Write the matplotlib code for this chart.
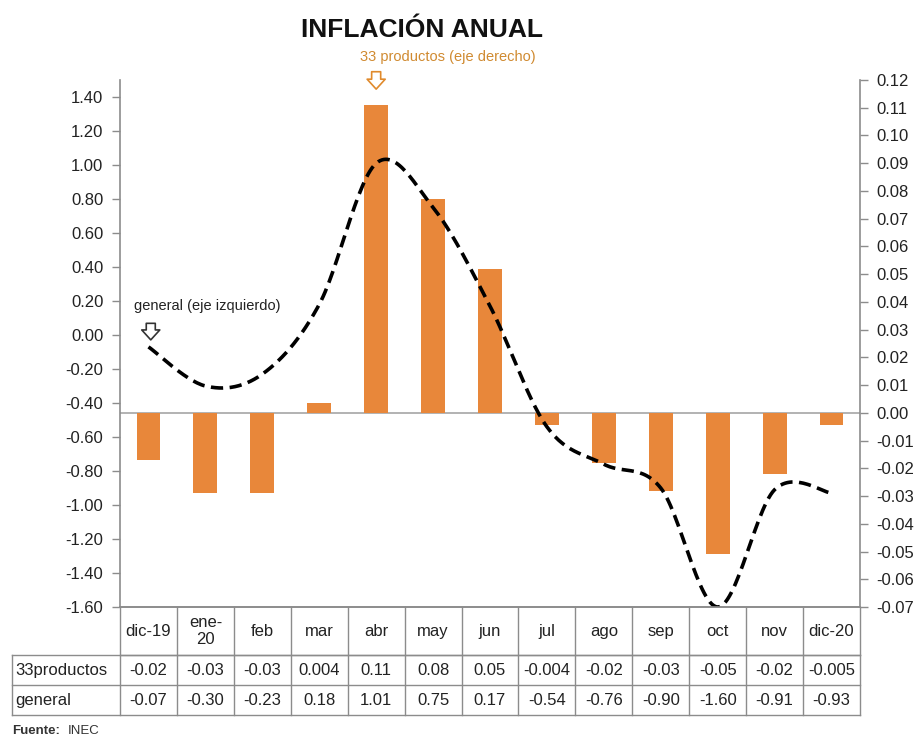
import numpy as np
import matplotlib
matplotlib.use("Agg")
import matplotlib.pyplot as plt
from matplotlib.ticker import FormatStrFormatter, MultipleLocator

plt.rcParams['font.family'] = ['Liberation Sans', 'DejaVu Sans']
plt.rcParams['axes.unicode_minus'] = False

# data
meses = ['dic-19', 'ene-\n20', 'feb', 'mar', 'abr', 'may', 'jun',
         'jul', 'ago', 'sep', 'oct', 'nov', 'dic-20']
productos33 = [-0.017, -0.029, -0.029, 0.0036, 0.111, 0.077, 0.052,
               -0.0044, -0.018, -0.028, -0.051, -0.022, -0.0044]
general = [-0.07, -0.30, -0.23, 0.18, 1.01, 0.75, 0.17,
           -0.54, -0.76, -0.90, -1.60, -0.91, -0.93]
productos33_txt = ['-0.02', '-0.03', '-0.03', '0.004', '0.11', '0.08', '0.05',
                   '-0.004', '-0.02', '-0.03', '-0.05', '-0.02', '-0.005']
general_txt = ['-0.07', '-0.30', '-0.23', '0.18', '1.01', '0.75', '0.17',
               '-0.54', '-0.76', '-0.90', '-1.60', '-0.91', '-0.93']
filas = ['33productos', 'general']

NARANJA = '#E8873A'
GRIS = '#8c8c8c'
TEXTO = '#222222'


def suavizar(xs, ys, n=30):
    # curva suavizada tipo Excel (bezier con tangentes de vecinos)
    pts = np.column_stack([xs, ys]).astype(float)
    out = [pts[0]]
    t = np.linspace(0, 1, n)[1:, None]
    for i in range(len(pts) - 1):
        p0 = pts[i - 1] if i > 0 else pts[i]
        p1, p2 = pts[i], pts[i + 1]
        p3 = pts[i + 2] if i + 2 < len(pts) else pts[i + 1]
        c1 = p1 + (p2 - p0) / 6
        c2 = p2 - (p3 - p1) / 6
        seg = (1 - t) ** 3 * p1 + 3 * (1 - t) ** 2 * t * c1 + 3 * (1 - t) * t ** 2 * c2 + t ** 3 * p2
        out.extend(seg)
    return np.array(out)


fig = plt.figure(figsize=(9.17, 7.38), dpi=100)
ax = fig.add_axes([0.1309, 0.1775, 0.8069, 0.7141])
ax2 = ax.twinx()

x = np.arange(len(meses))

# barras (eje derecho)
ax2.bar(x, productos33, width=0.42, color=NARANJA, zorder=2)
ax2.axhline(0, color='#a6a6a6', lw=1.2, zorder=1)
ax2.set_ylim(-0.07, 0.12)
ax2.yaxis.set_major_locator(MultipleLocator(0.01))
ax2.yaxis.set_major_formatter(FormatStrFormatter('%.2f'))

# linea (eje izquierdo)
curva = suavizar(x, general)
ax.plot(curva[:, 0], curva[:, 1], color='black', lw=2.6, linestyle=(0, (3.4, 1.8)))
ax.set_ylim(-1.60, 1.50)
ax.set_yticks(np.round(np.linspace(-1.6, 1.4, 16), 2) + 0.0)
ax.yaxis.set_major_formatter(FormatStrFormatter('%.2f'))
ax.set_xlim(-0.5, len(meses) - 0.5)
ax.set_xticks([])

ax.set_zorder(ax2.get_zorder() + 1)
ax.patch.set_visible(False)

for a in (ax, ax2):
    a.spines['top'].set_visible(False)
    for s in ('left', 'right', 'bottom'):
        a.spines[s].set_color(GRIS)
        a.spines[s].set_linewidth(1.2)
    a.tick_params(axis='y', direction='out', length=6, width=1, color=GRIS,
                  labelsize=12, labelcolor=TEXTO, pad=6)
ax.spines['right'].set_visible(False)
ax2.spines['left'].set_visible(False)

# tabla de datos bajo el eje (x en datos, y en fraccion de eje)
tr = ax.get_xaxis_transform()
n = len(meses)
x_izq = -0.5 - 108 / 57.0          # ancho de la columna de etiquetas
y_enc = -48 / 527.0                # fila de meses
y_f1 = y_enc - 30 / 527.0
y_f2 = y_f1 - 30 / 527.0
lk = dict(color=GRIS, lw=1.0, transform=tr, clip_on=False)

ax.plot([-0.5, n - 0.5], [y_enc, y_enc], **lk)
ax.plot([x_izq, n - 0.5], [y_enc, y_enc], **lk)
ax.plot([x_izq, n - 0.5], [y_f1, y_f1], **lk)
ax.plot([x_izq, n - 0.5], [y_f2, y_f2], **lk)
ax.plot([x_izq, x_izq], [y_enc, y_f2], **lk)
for k in range(n + 1):
    ax.plot([k - 0.5, k - 0.5], [0, y_f2], **lk)

for i, m in enumerate(meses):
    ax.text(i, y_enc / 2, m, ha='center', va='center', fontsize=12,
            color=TEXTO, transform=tr, linespacing=1.1)
for fila, (nombre, vals) in enumerate(zip(filas, [productos33_txt, general_txt])):
    yc = (y_enc + y_f1) / 2 if fila == 0 else (y_f1 + y_f2) / 2
    ax.text(x_izq + 0.05, yc, nombre, ha='left', va='center', fontsize=12,
            color=TEXTO, transform=tr)
    for i, v in enumerate(vals):
        ax.text(i, yc, v, ha='center', va='center', fontsize=12,
                color=TEXTO, transform=tr)

# textos
fig.text(0.460, 0.960, 'INFLACIÓN ANUAL', ha='center', va='center',
         fontsize=19, fontweight='bold', color='#111111')
ax.text(3.72, 1.635, '33 productos (eje derecho)', ha='left', va='center',
        fontsize=10.5, color='#D08A30', clip_on=False)
flecha = 'simple,head_length=0.55,head_width=1.0,tail_width=0.5'
ax.annotate('', xy=(4, 1.43), xytext=(4, 1.565), annotation_clip=False,
            arrowprops=dict(arrowstyle=flecha, mutation_scale=13,
                            fc='white', ec='#E08A2C', lw=1.2))
ax.text(-0.25, 0.17, 'general (eje izquierdo)', ha='left', va='center',
        fontsize=10.5, color=TEXTO)
ax.annotate('', xy=(0.04, -0.045), xytext=(0.04, 0.085), annotation_clip=False,
            arrowprops=dict(arrowstyle=flecha, mutation_scale=13,
                            fc='white', ec='#333333', lw=1.2))

fig.text(0.013, 0.005, 'Fuente:', fontsize=9.5, fontweight='bold', color='#333333')
fig.text(0.074, 0.005, 'INEC', fontsize=9.5, color='#333333')

fig.savefig('out.png', dpi=100)
